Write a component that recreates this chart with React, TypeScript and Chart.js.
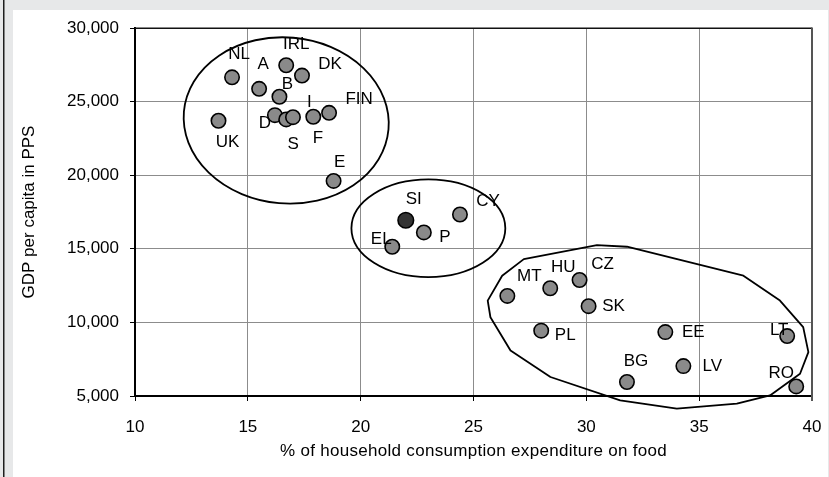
import React, { useEffect, useRef } from 'react';
import { Chart, registerables } from 'chart.js';

Chart.register(...registerables);

// ---------- data ----------
const countries = ['NL', 'A', 'IRL', 'DK', 'B', 'UK', 'D', 'S', 'F', 'I', 'FIN', 'E', 'SI', 'CY', 'P', 'EL', 'MT', 'HU', 'CZ', 'SK', 'PL', 'EE', 'LT', 'BG', 'LV', 'RO'];
const foodShare = [14.3, 15.5, 16.7, 17.4, 16.4, 13.7, 16.2, 16.7, 17.0, 17.9, 18.6, 18.8, 22.0, 24.4, 22.8, 21.4, 26.5, 28.4, 29.7, 30.1, 28.0, 33.5, 38.9, 31.8, 34.3, 39.3];
const gdpPerCapita = [26650, 25870, 27470, 26770, 25330, 23700, 24080, 23790, 23940, 23970, 24240, 19610, 16940, 17330, 16110, 15140, 11800, 12320, 12880, 11100, 9440, 9340, 9070, 5950, 7030, 5650];
const highlighted = ['SI'];

const xMin = 10;
const xMax = 40;
const xStep = 5;
const yMin = 5000;
const yMax = 30000;
const yStep = 5000;

const xTitle = '% of household consumption expenditure on food';
const yTitle = 'GDP per capita in PPS';

// group outlines (in data units)
const ellipseCx = [16.7, 23.0];
const ellipseCy = [23720, 16400];
const ellipseRx = [4.55, 3.41];
const ellipseRy = [5640, 3320];
const ellipseTiltDeg = [5, 0];

const outlineX = [26.27, 27.23, 30.47, 31.8, 36.96, 38.58, 39.61, 39.84, 39.47, 38.14, 36.67, 34.01, 31.5, 28.41, 26.64, 25.75, 25.63];
const outlineY = [13170, 14300, 15250, 15140, 13170, 11480, 9680, 7980, 6510, 5040, 4480, 4140, 4700, 6290, 8090, 10350, 11480];

// label placement relative to the marker (pixels)
const labelOffsets: Record<string, [number, number]> = {
  NL: [7, -23], A: [4, -24], IRL: [10, -21], DK: [28, -11], B: [8, -12], UK: [9, 22],
  D: [-10, 8], S: [7, 25], F: [25, 21], I: [-4, -14], FIN: [30, -13], E: [6, -19],
  SI: [8, -21], CY: [28, -13], P: [21, 5], EL: [-11, -7],
  MT: [22, -20], HU: [13, -21], CZ: [23, -16], SK: [25, 0], PL: [24, 5], EE: [28, 0],
  LT: [-8, -6], BG: [9, -21], LV: [29, 0], RO: [-15, -13],
};

const FONT = '"Liberation Sans", Arial, sans-serif';

export default function App() {
  const ref = useRef<HTMLCanvasElement | null>(null);

  useEffect(() => {
    const canvas = ref.current;
    if (!canvas) return;

    const normal = countries.map((c, i) => ({ c, x: foodShare[i], y: gdpPerCapita[i] })).filter((d) => !highlighted.includes(d.c));
    const special = countries.map((c, i) => ({ c, x: foodShare[i], y: gdpPerCapita[i] })).filter((d) => highlighted.includes(d.c));

    const backgroundPlugin = {
      id: 'bg',
      beforeDraw(chart: any) {
        const { ctx, width, height } = chart;
        ctx.save();
        ctx.fillStyle = '#e7e8e9';
        ctx.fillRect(0, 0, width, height);
        ctx.fillStyle = '#ffffff';
        ctx.fillRect(13, 10, width - 14, height - 10);
        ctx.fillStyle = '#1e1e1e';
        ctx.fillRect(3, 0, 1.5, height);
        ctx.restore();
      },
    };

    const shapesPlugin = {
      id: 'shapes',
      beforeDatasetsDraw(chart: any) {
        const { ctx } = chart;
        const xs = chart.scales.x;
        const ys = chart.scales.y;
        ctx.save();
        ctx.strokeStyle = '#000';
        ctx.lineWidth = 1.8;
        for (let i = 0; i < ellipseCx.length; i++) {
          const cx = xs.getPixelForValue(ellipseCx[i]);
          const cy = ys.getPixelForValue(ellipseCy[i]);
          const rx = Math.abs(xs.getPixelForValue(ellipseCx[i] + ellipseRx[i]) - cx);
          const ry = Math.abs(ys.getPixelForValue(ellipseCy[i] + ellipseRy[i]) - cy);
          ctx.beginPath();
          ctx.ellipse(cx, cy, rx, ry, (ellipseTiltDeg[i] * Math.PI) / 180, 0, Math.PI * 2);
          ctx.stroke();
        }
        ctx.beginPath();
        outlineX.forEach((vx, i) => {
          const px = xs.getPixelForValue(vx);
          const py = ys.getPixelForValue(outlineY[i]);
          if (i === 0) ctx.moveTo(px, py);
          else ctx.lineTo(px, py);
        });
        ctx.closePath();
        ctx.lineJoin = 'round';
        ctx.stroke();
        ctx.restore();
      },
    };

    const framePlugin = {
      id: 'frame',
      afterDraw(chart: any) {
        const { ctx, chartArea } = chart;
        ctx.save();
        ctx.strokeStyle = '#111';
        ctx.lineWidth = 1.5;
        ctx.beginPath();
        ctx.moveTo(chartArea.left, chartArea.top + 0.25);
        ctx.lineTo(chartArea.right, chartArea.top + 0.25);
        ctx.stroke();
        ctx.strokeStyle = '#555';
        ctx.lineWidth = 2;
        ctx.beginPath();
        ctx.moveTo(chartArea.right, chartArea.top - 0.5);
        ctx.lineTo(chartArea.right, chartArea.bottom + 5);
        ctx.stroke();
        ctx.font = `17px ${FONT}`;
        ctx.fillStyle = '#000';
        ctx.textAlign = 'center';
        ctx.textBaseline = 'middle';
        try { (ctx as any).letterSpacing = '0.3px'; } catch (e) { /* ignore */ }
        ctx.fillText(xTitle, (chartArea.left + chartArea.right) / 2, 451);
        ctx.restore();
      },
    };

    const labelsPlugin = {
      id: 'pointLabels',
      afterDatasetsDraw(chart: any) {
        const { ctx } = chart;
        const xs = chart.scales.x;
        const ys = chart.scales.y;
        ctx.save();
        ctx.font = `17px ${FONT}`;
        ctx.fillStyle = '#000';
        ctx.textAlign = 'center';
        ctx.textBaseline = 'middle';
        countries.forEach((c, i) => {
          const off = labelOffsets[c] || [0, -16];
          const px = xs.getPixelForValue(foodShare[i]);
          const py = ys.getPixelForValue(gdpPerCapita[i]);
          ctx.fillText(c, px + off[0], py + off[1]);
        });
        ctx.restore();
      },
    };

    const chart = new Chart(canvas, {
      type: 'scatter',
      data: {
        datasets: [
          {
            label: 'countries',
            data: normal as any,
            pointRadius: 7.2,
            pointHoverRadius: 7.2,
            pointBackgroundColor: '#8a8a8a',
            pointBorderColor: '#000',
            pointBorderWidth: 1.6,
            clip: false as any,
          },
          {
            label: 'highlight',
            data: special as any,
            pointRadius: 7.8,
            pointHoverRadius: 7.8,
            pointBackgroundColor: '#333333',
            pointBorderColor: '#000',
            pointBorderWidth: 1.6,
            clip: false as any,
          },
        ],
      },
      options: {
        animation: false,
        responsive: false,
        devicePixelRatio: 1,
        events: [],
        layout: { padding: { left: 0, top: 28, right: 17, bottom: 0 } },
        plugins: {
          legend: { display: false },
          tooltip: { enabled: false },
        },
        scales: {
          x: {
            type: 'linear',
            min: xMin,
            max: xMax,
            afterFit: (s: any) => { s.height = 81; s.paddingLeft = 0; s.paddingRight = 0; },
            ticks: { stepSize: xStep, color: '#000', padding: 16, font: { family: FONT, size: 17 } },
            grid: { color: '#8c8c8c', lineWidth: 1, tickLength: 5, tickColor: '#000', tickWidth: 1 },
            border: { color: '#000', width: 2 },
            title: { display: false, text: xTitle },
          },
          y: {
            type: 'linear',
            min: yMin,
            max: yMax,
            afterFit: (s: any) => { s.width = 135; s.paddingTop = 0; s.paddingBottom = 0; },
            ticks: { stepSize: yStep, color: '#000', padding: 11, font: { family: FONT, size: 17 } },
            grid: { color: '#8c8c8c', lineWidth: 1, tickLength: 5, tickColor: '#000', tickWidth: 1 },
            border: { color: '#000', width: 2 },
            title: { display: true, text: yTitle, color: '#000', font: { family: FONT, size: 17 }, padding: { top: 19, bottom: 0 } },
          },
        },
      },
      plugins: [backgroundPlugin, shapesPlugin, labelsPlugin, framePlugin],
    });

    return () => chart.destroy();
  }, []);

  return (
    <div style={{ position: 'fixed', left: 0, top: 0, width: 829, height: 477 }}>
      <canvas ref={ref} width={829} height={477} style={{ display: 'block', width: 829, height: 477 }} />
    </div>
  );
}
